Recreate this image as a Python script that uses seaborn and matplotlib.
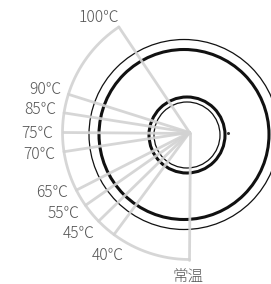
import numpy as np
import pandas as pd
import matplotlib.pyplot as plt
from matplotlib.patches import Circle
import seaborn as sns

# temperature settings on the dial (label + spoke angle in degrees, 0 = right, ccw)
labels = ["100℃", "90℃", "85℃", "75℃", "70℃", "65℃", "55℃", "45℃", "40℃", "常温"]
angles = [123.8, 162.5, 171.1, 180.0, 188.7, 207.0, 215.0, 224.3, 233.5, 270.0]

# label anchor points (pixels) and alignment
label_x = [119, 61.5, 56.5, 53.5, 55, 68.5, 79.5, 95, 124, 188.5]
label_y = [17.5, 89.5, 110, 133, 154.5, 192.5, 213, 234, 255, 276.5]
label_ha = ["right"] * 9 + ["center"]

# dial rings: (center x, center y, radius, linewidth)
ring_cx = [184, 184, 187, 187]
ring_cy = [134.5, 134.5, 135, 135]
ring_r = [95, 85, 38, 33]
ring_lw = [0.9, 2.2, 2.2, 0.9]

fan_cx, fan_cy, fan_r = 189.5, 132.5, 127
gray = "#d2d2d2"
text_col = "#555555"

sns.set_theme(style="white")
plt.rcParams["font.family"] = ["Noto Sans CJK JP", "DejaVu Sans"]

fig = plt.figure(figsize=(2.71, 2.84), dpi=100)
ax = fig.add_axes([0, 0, 1, 1])

# black rings
for cx, cy, r, lw in zip(ring_cx, ring_cy, ring_r, ring_lw):
    ax.add_patch(Circle((cx, cy), r, fill=False, ec="#111111", lw=lw, zorder=1))

# small tick right of the inner ring
ax.plot([227.5], [133.3], marker="o", ms=1.2, color="#333333", zorder=1)

# spokes as a long table for seaborn
rows = []
for lab, a in zip(labels, angles):
    t = np.deg2rad(a)
    rows.append({"label": lab, "x": fan_cx, "y": fan_cy, "order": 0})
    rows.append({"label": lab, "x": fan_cx + fan_r * np.cos(t),
                 "y": fan_cy - fan_r * np.sin(t), "order": 1})
spokes = pd.DataFrame(rows)
sns.lineplot(data=spokes, x="x", y="y", units="label", estimator=None, sort=False,
             color=gray, lw=2.0, ax=ax, zorder=3, alpha=0.9)

# outer arc of the fan
arc_t = np.deg2rad(np.linspace(min(angles), max(angles), 200))
arc = pd.DataFrame({"x": fan_cx + fan_r * np.cos(arc_t),
                    "y": fan_cy - fan_r * np.sin(arc_t)})
sns.lineplot(data=arc, x="x", y="y", sort=False, color=gray, lw=2.0, ax=ax,
             zorder=3, alpha=0.9)

for lab, x, y, ha in zip(labels, label_x, label_y, label_ha):
    ax.text(x, y, lab, ha=ha, va="center", fontsize=11.2, color=text_col,
            fontweight="light")

ax.set_xlim(0, 271)
ax.set_ylim(284, 0)
ax.set_aspect("equal")
ax.axis("off")
fig.savefig("out.png", dpi=100, facecolor="white")
